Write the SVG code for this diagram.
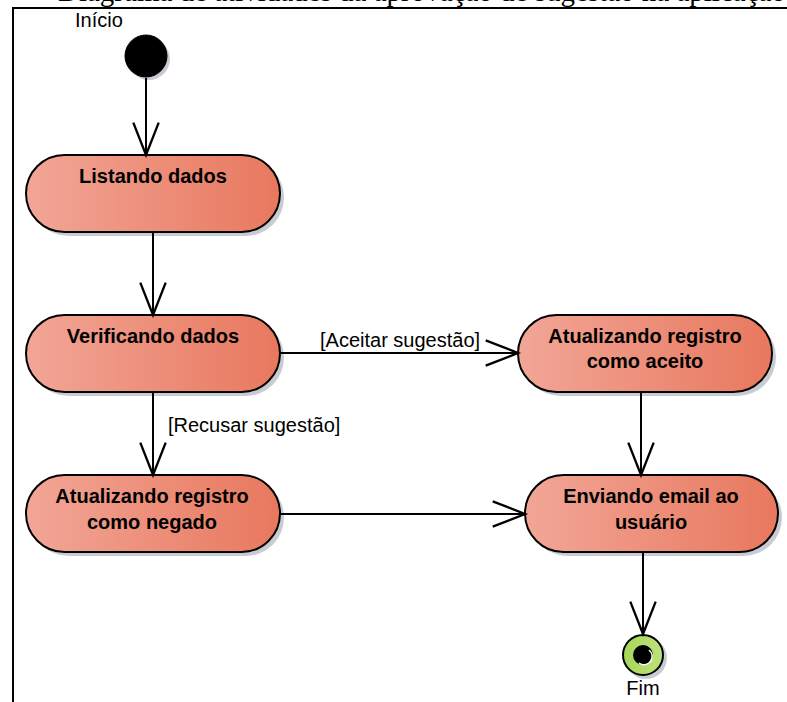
<svg xmlns="http://www.w3.org/2000/svg" width="787" height="702" viewBox="0 0 787 702">
<style>
.frame{fill:none;stroke:#000;stroke-width:2}
.node{fill:url(#salmon);stroke:#000;stroke-width:2}
.shadow{fill:#c9cbd2}
.ntext{font-family:"Liberation Sans",Arial,sans-serif;font-size:20px;font-weight:bold;fill:#000;text-anchor:middle}
.label{font-family:"Liberation Sans",Arial,sans-serif;font-size:20px;fill:#000}
.caption{font-family:"Liberation Serif","Times New Roman",serif;font-size:29px;fill:#000}
.edge{fill:none;stroke:#000;stroke-width:2;marker-end:url(#open)}
</style>
<defs>
<linearGradient id="salmon" x1="0" y1="0" x2="1" y2="0">
<stop offset="0" stop-color="#f2a697"/>
<stop offset="1" stop-color="#e8785e"/>
</linearGradient>
<linearGradient id="green" x1="0" y1="0" x2="1" y2="0">
<stop offset="0" stop-color="#a6d858"/>
<stop offset="1" stop-color="#bfe07a"/>
</linearGradient>
<marker id="open" markerUnits="userSpaceOnUse" markerWidth="40" markerHeight="30" viewBox="-30 -13 32 26" refX="0" refY="0" orient="auto">
<path d="M-28,-11 L0,0 L-28,11" fill="none" stroke="#000" stroke-width="2"/>
</marker>
</defs>
<rect width="787" height="702" fill="#fff"/>
<text class="caption" x="58" y="1">Diagrama de atividades da aprovação de sugestão na aplicação</text>
<path class="frame" d="M13,702 V8 H787"/>

<g id="inicio">
<circle cx="149" cy="59" r="21" class="shadow"/>
<circle cx="146" cy="56" r="21" fill="#000" stroke="#000" stroke-width="1"/>
<text class="label" x="75" y="27">Início</text>
</g>

<g id="listando">
<rect class="shadow" x="30" y="159" width="254" height="77" rx="38.5"/>
<rect class="node" x="26" y="155" width="254" height="77" rx="38.5"/>
<text class="ntext" x="153" y="183">Listando dados</text>
</g>

<g id="verificando">
<rect class="shadow" x="30" y="319" width="254" height="77" rx="38.5"/>
<rect class="node" x="26" y="315" width="254" height="77" rx="38.5"/>
<text class="ntext" x="153" y="343">Verificando dados</text>
</g>

<g id="negado">
<rect class="shadow" x="30" y="479" width="254" height="77" rx="38.5"/>
<rect class="node" x="26" y="475" width="254" height="77" rx="38.5"/>
<text class="ntext" x="152" y="503">Atualizando registro</text>
<text class="ntext" x="152" y="529">como negado</text>
</g>

<g id="aceito">
<rect class="shadow" x="522" y="319" width="254" height="77" rx="38.5"/>
<rect class="node" x="518" y="315" width="254" height="77" rx="38.5"/>
<text class="ntext" x="645" y="343">Atualizando registro</text>
<text class="ntext" x="645" y="368">como aceito</text>
</g>

<g id="enviando">
<rect class="shadow" x="529" y="479" width="253" height="77" rx="38.5"/>
<rect class="node" x="525" y="475" width="253" height="77" rx="38.5"/>
<text class="ntext" x="651" y="503">Enviando email ao</text>
<text class="ntext" x="651" y="529">usuário</text>
</g>

<g id="fim">
<circle cx="646" cy="658" r="21" class="shadow"/>
<circle cx="643" cy="655" r="20" fill="url(#green)" stroke="#000" stroke-width="2"/>
<circle cx="643" cy="655" r="10" fill="#000"/>
<path d="M639,663 A8,8 0 0 0 649,650" fill="none" stroke="#fff" stroke-width="1.5"/>
<text class="label" x="643" y="695" text-anchor="middle">Fim</text>
</g>

<g id="connectors">
<path class="edge" d="M146,78 V155"/>
<path class="edge" d="M153,232 V315"/>
<path class="edge" d="M153,392 V475"/>
<path class="edge" d="M280,353 H518"/>
<path class="edge" d="M641,392 V475"/>
<path class="edge" d="M280,514 H525"/>
<path class="edge" d="M643,552 V634"/>
<text class="label" x="168" y="432">[Recusar sugestão]</text>
<text class="label" x="320" y="347">[Aceitar sugestão]</text>
</g>
</svg>
